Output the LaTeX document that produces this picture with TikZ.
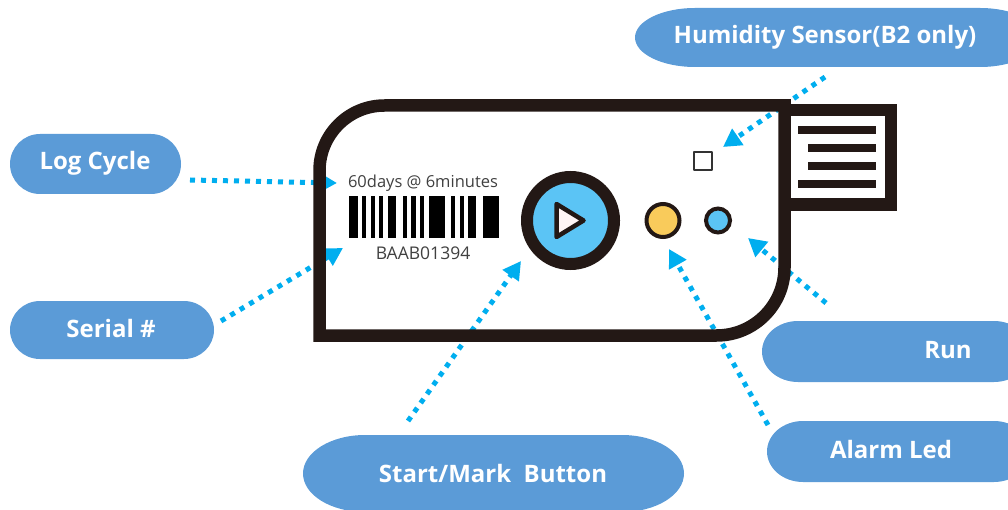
\documentclass[tikz,border=0pt]{standalone}
\usepackage{fontspec}
\setmainfont{Open Sans}
\usetikzlibrary{arrows.meta}
\definecolor{pillblue}{HTML}{5B9BD7}
\definecolor{dotblue}{HTML}{00AEEF}
\definecolor{frame}{HTML}{231815}
\definecolor{btnblue}{HTML}{5BC4F5}
\definecolor{ledyellow}{HTML}{F9CB5B}
\tikzset{
  pilllabel/.style={text=white,font=\fontsize{24}{26}\selectfont\bfseries,inner sep=0pt,anchor=base},
  callout/.style={draw=dotblue,line width=5pt,dash pattern=on 5pt off 6pt,
    -{Triangle[length=18pt,width=19pt,fill=dotblue,sep=0pt]}},
  devframe/.style={draw=frame,line width=12.5pt,line join=miter},
  devtext/.style={text=black!75,inner sep=0pt,anchor=base},
  bar/.style={fill=black},
  grille/.style={fill=frame},
}
\newcommand{\pillshape}[5]{% x0,y0,x1,y1,rx
  \fill[pillblue] (#1+#5,#2) -- (#3-#5,#2)
    arc[start angle=90,end angle=-90,x radius=#5 pt,y radius={(#4-#2)/2*1pt}]
    -- (#1+#5,#4)
    arc[start angle=270,end angle=90,x radius=#5 pt,y radius={(#4-#2)/2*1pt}] -- cycle;}
\begin{document}
\begin{tikzpicture}[x=1pt,y=-1pt]
\useasboundingbox (0,0) rectangle (1008,510);
\clip (0,0) rectangle (1008,510);
% pills
\pillshape{635}{8}{1040}{67}{60}
\pillshape{10}{134}{181}{194}{30}
\pillshape{10}{301}{214}{359}{30}
\pillshape{762}{321}{1030}{382}{36}
\pillshape{767}{421}{1030}{482}{36}
\pillshape{303}{435}{684}{512}{62}
\node[pilllabel] (humidity) at (825,44) {Humidity Sensor(B2 only)};
\node[pilllabel] (logcycle) at (95,170) {Log Cycle};
\node[pilllabel] (serial) at (111,337) {Serial \#};
\node[pilllabel] (run) at (948,358) {Run};
\node[pilllabel] (alarm) at (891,458) {Alarm Led};
\node[pilllabel] (start) at (493,482) {Start/Mark\ \ Button};
% connector ends
\coordinate (humidityEnd) at (825,77);
\coordinate (logEnd) at (190,180);
\coordinate (serialEnd) at (221,321);
\coordinate (runEnd) at (826,303);
\coordinate (alarmEnd) at (768,425);
\coordinate (startEnd) at (408,421);
\coordinate (humidityTip) at (723,147);
\coordinate (logTip) at (337,183);
\coordinate (serialTip) at (343,248);
\coordinate (runTip) at (748,238);
\coordinate (alarmTip) at (669,249);
\coordinate (startTip) at (521,261);
\draw[callout] (humidityEnd) -- (humidityTip);
\draw[callout] (logEnd) -- (logTip);
\draw[callout] (serialEnd) -- (serialTip);
\draw[callout] (runEnd) -- (runTip);
\draw[callout] (alarmEnd) -- (alarmTip);
\draw[callout] (startEnd) -- (startTip);
% device
\draw[devframe] (784.5,105.5) -- (384.5,105.5)
  arc[start angle=90,end angle=180,radius=65pt]
  -- (319.5,335.5) -- (716.5,335.5)
  arc[start angle=270,end angle=360,radius=68pt] -- cycle;
\draw[devframe] (784.5,110) -- (891,110) -- (891,204.5) -- (784.5,204.5);
\fill[grille] (798,126) rectangle (876,134.5);
\fill[grille] (808,144) rectangle (876,152.5);
\fill[grille] (808,162) rectangle (876,170.5);
\fill[grille] (798,180) rectangle (876,188.5);
% sensor
\draw[draw=black!80,line width=2pt,line join=round] (694,152) rectangle (712,170);
% LEDs
\node[circle,draw=frame,fill=ledyellow,line width=4pt,minimum size=33pt,inner sep=0pt] (alarmled) at (663,220.5) {};
\node[circle,draw=frame,fill=btnblue,line width=4pt,minimum size=24pt,inner sep=0pt] (runled) at (718,220.5) {};
% button
\node[circle,draw=frame,fill=btnblue,line width=12pt,minimum size=87pt,inner sep=0pt] (button) at (570.5,220.5) {};
\draw[draw=frame,fill=white!96!red,line width=4.5pt,line join=round] (556.5,204) -- (583.5,220.5) -- (556.5,237) -- cycle;
% label text
\node[devtext,font=\fontsize{16.5}{18}\selectfont] (days) at (423,188) {60days @ 6minutes};
\node[devtext,font=\fontsize{17.5}{19}\selectfont] (code) at (423,259.5) {BAAB01394};
% barcode
\foreach \a/\b in {118/143,155/167,182/195,208/220,234/258,278/290,304/317,330/342,358/406,422/434,449/461,475/498,518/566}
  \fill[bar] ({310+\a/3},196) rectangle ({310+\b/3},238);
\end{tikzpicture}
\end{document}
